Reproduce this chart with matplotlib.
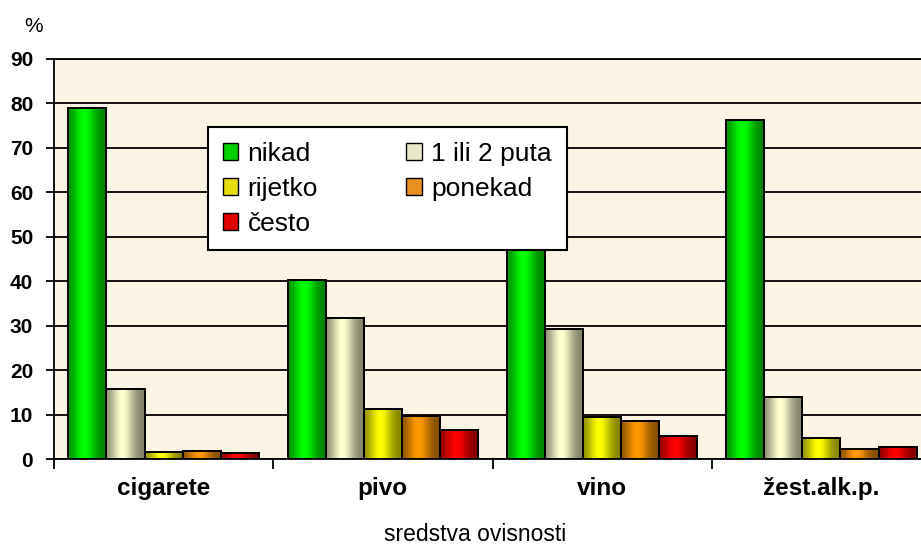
import numpy as np
import matplotlib
matplotlib.use("Agg")
import matplotlib.pyplot as plt
from matplotlib.patches import Patch
from matplotlib.colors import to_rgb

categories = ["cigarete", "pivo", "vino", "žest.alk.p."]
series_names = ["nikad", "1 ili 2 puta", "rijetko", "ponekad", "često"]
nikad = [79.0, 40.4, 55.0, 76.2]
jednom_dvaput = [15.8, 31.8, 29.3, 14.0]
rijetko = [1.7, 11.4, 9.6, 4.7]
ponekad = [1.9, 9.8, 8.6, 2.3]
cesto = [1.4, 6.6, 5.3, 2.8]
series_values = [nikad, jednom_dvaput, rijetko, ponekad, cesto]
yticks = [0, 10, 20, 30, 40, 50, 60, 70, 80, 90]

bar_colors = ["#00FF00", "#FFFFD0", "#FFFF00", "#FF9900", "#FF0000"]
legend_colors = ["#00D000", "#E8E8C8", "#E6DC10", "#E89020", "#E00000"]

plt.rcParams['font.family'] = ['Liberation Sans', 'DejaVu Sans']

W, H = 921, 548
fig = plt.figure(figsize=(W / 100, H / 100), dpi=100)
fig.patch.set_facecolor("white")
left_px, right_px, top_px, bot_px = 54, 931, 59, 459.3
ax = fig.add_axes([left_px / W, (H - bot_px) / H, (right_px - left_px) / W, (bot_px - top_px) / H])
ax.set_facecolor("#FBF3E3")

n = len(series_names)
bw = 0.174
x = np.arange(len(categories))
t = np.linspace(0, 1, 64)
prof = np.exp(-((t - 0.42) / 0.3) ** 2)
shade = 0.5 + 0.5 * prof

for i, (vals, col) in enumerate(zip(series_values, bar_colors)):
    pos = x + (i - (n - 1) / 2) * bw
    bars = ax.bar(pos, vals, width=bw, facecolor="none", edgecolor="black",
                  linewidth=1.4, zorder=3)
    base = np.array(to_rgb(col))
    grad = (shade[:, None] * base[None, :])[None, :, :]
    for b in bars:
        x0 = b.get_x()
        ax.imshow(grad, extent=[x0, x0 + b.get_width(), 0, b.get_height()],
                  aspect="auto", zorder=2.5, interpolation="bilinear")

ax.set_xlim(-0.5, len(categories) - 0.5)
ax.set_ylim(0, 90)
ax.set_yticks(yticks)
ax.set_yticklabels([str(v) for v in yticks], fontsize=15, fontweight="bold")
ax.set_xticks(x)
ax.set_xticklabels(categories, fontsize=17.5, fontweight="bold")
ax.set_xticks(np.arange(len(categories) + 1) - 0.5, minor=True)
ax.tick_params(axis="x", which="major", length=0, pad=13)
ax.tick_params(axis="x", which="minor", length=7, width=1.3, direction="out")
ax.tick_params(axis="y", which="major", length=6, width=1.3, direction="out", pad=9)

ax.set_axisbelow(True)
ax.yaxis.grid(True, color="black", linewidth=1.3)
ax.spines["right"].set_visible(False)
for s in ["left", "bottom", "top"]:
    ax.spines[s].set_linewidth(1.3)
    ax.spines[s].set_color("black")

handles = [Patch(facecolor=c, edgecolor="black", linewidth=1.0) for c in legend_colors]
order = [0, 2, 4, 1, 3]
leg = ax.legend([handles[k] for k in order], [series_names[k] for k in order],
                ncol=2, loc="upper left",
                bbox_to_anchor=(208 / W, (H - 127) / H), bbox_transform=fig.transFigure,
                borderaxespad=0, fontsize=19, frameon=True, fancybox=False,
                edgecolor="black", facecolor="white", framealpha=1,
                handlelength=0.6, handleheight=0.6, handletextpad=0.35,
                columnspacing=3.35, labelspacing=0.42, borderpad=0.55)
leg.get_frame().set_linewidth(1.5)
leg.set_zorder(10)

fig.text(475 / W, 7 / H, "sredstva ovisnosti", fontsize=16.5, ha="center", va="baseline")
fig.text(34 / W, (H - 27) / H, "%", fontsize=15, ha="center", va="center")

fig.savefig("out.png", dpi=100)
